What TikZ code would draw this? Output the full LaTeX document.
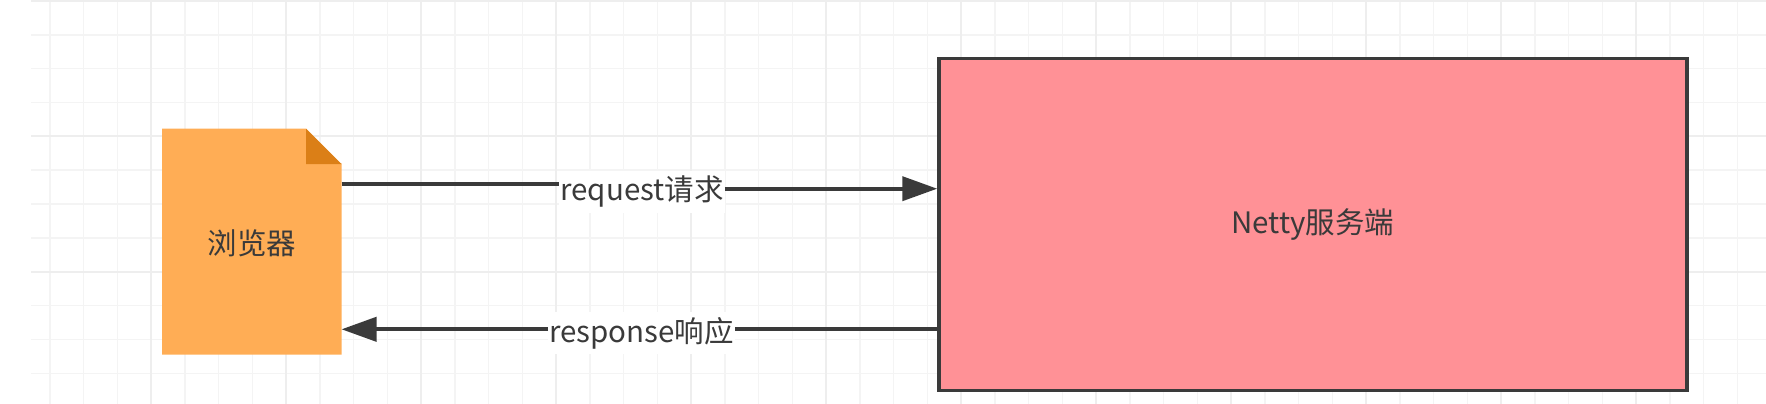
\documentclass[tikz,border=0pt]{standalone}
\usepackage{fontspec}
\setmainfont{Noto Sans CJK SC}
\usetikzlibrary{arrows.meta}
\definecolor{gridminor}{HTML}{F4F4F4}
\definecolor{gridmajor}{HTML}{EEEEEE}
\definecolor{inkdark}{HTML}{3A3A3A}
\definecolor{docfill}{HTML}{FFAD55}
\definecolor{docfold}{HTML}{DB7F17}
\definecolor{serverfill}{HTML}{FF9196}
\tikzset{
	minorline/.style={gridminor,line width=1.6pt},
	majorline/.style={gridmajor,line width=2.5pt},
	majorrow/.style={gridmajor,line width=2pt},
	boxtext/.style={font=\fontsize{29.5}{34}\selectfont,text=inkdark},
	flowlabel/.style={boxtext,fill=white,inner xsep=1pt,inner ysep=0pt,minimum height=42pt},
	flow/.style={inkdark,line width=4pt},
	flowhead/.style={flow,-{Triangle[length=35pt,width=24pt]}}
}
\begin{document}
\begin{tikzpicture}[x=1pt,y=-1pt]
	\useasboundingbox (0,0) rectangle (1766,404);
	\foreach \i in {1,...,51} \draw[minorline] ({16.1+33.75*\i},0) -- ({16.1+33.75*\i},404);
	\foreach \i in {0,...,11} \draw[minorline] (31,{1+33.85*\i}) -- (1766,{1+33.85*\i});
	\foreach \i in {1,...,12} \draw[majorline] ({16.1+135*\i},0) -- ({16.1+135*\i},404);
	\foreach \i in {0,...,2} \draw[majorrow] (31,{1+135.4*\i}) -- (1766,{1+135.4*\i});
	\fill[docfill] (162,128.7) -- (306,128.7) -- (341.5,164) -- (341.5,354.5) -- (162,354.5) -- cycle;
	\fill[docfold] (306,128.7) -- (341.5,164) -- (306,164) -- cycle;
	\node[boxtext,minimum width=179.5pt,minimum height=225.8pt,outer sep=0pt] (browser)at(251.75,243.5) {浏览器};
	\node[boxtext,draw=inkdark,line width=3.5pt,fill=serverfill,minimum width=748pt,minimum height=332pt] (server)at(1313,224.3) {Netty服务端};
	\coordinate (reqout)at(341.5,184);
	\coordinate (reqin)at(936,188.7);
	\coordinate (respline)at(341.5,329.3);
	\node[flowlabel] (reqlabel)at(642,191.5) {request请求};
	\node[flowlabel] (resplabel)at(641.5,333) {response响应};
	\draw[flow] (reqout) -- (reqlabel.west |- reqout);
	\draw[flowhead] (reqlabel.east |- reqin) -- (server.west |- reqin);
	\draw[flow] (server.west |- respline) -- (resplabel.east |- respline);
	\draw[flowhead] (resplabel.west |- respline) -- (browser.east |- respline);
\end{tikzpicture}
\end{document}
